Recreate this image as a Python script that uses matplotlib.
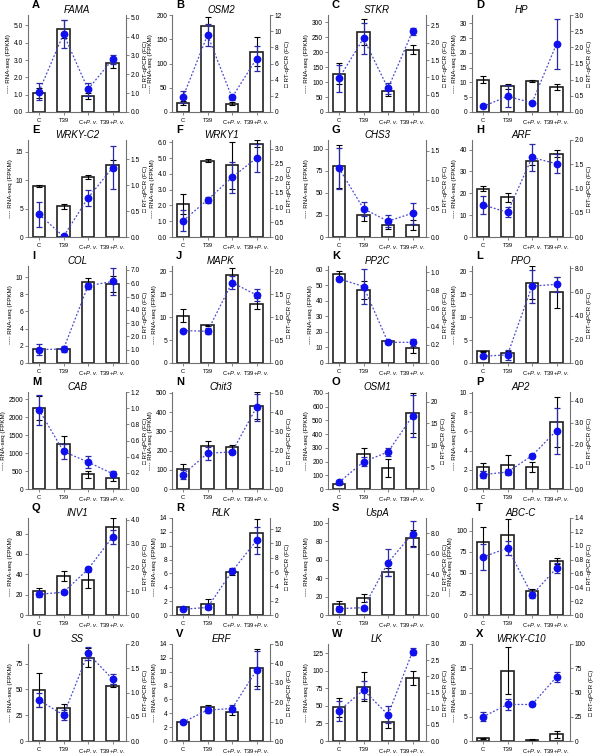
import matplotlib
matplotlib.use('Agg')
import matplotlib.pyplot as plt
import numpy as np

plt.rcParams['font.family'] = ['Liberation Sans', 'DejaVu Sans']
plt.rcParams['mathtext.fontset'] = 'custom'
plt.rcParams['mathtext.rm'] = 'Liberation Sans'
plt.rcParams['mathtext.it'] = 'Liberation Sans:italic'

letters = list('ABCDEFGHIJKLMNOPQRSTUVWX')
genes = ['FAMA', 'OSM2', 'STKR', 'HP', 'WRKY-C2', 'WRKY1', 'CHS3', 'ARF',
         'COL', 'MAPK', 'PP2C', 'PPO', 'CAB', 'Chit3', 'OSM1', 'AP2',
         'INV1', 'RLK', 'UspA', 'ABC-C', 'SS', 'ERF', 'LK', 'WRKY-C10']
groups = ['C', 'T39', r'C+$\it{P.v.}$', r'T39+$\it{P.v.}$']

# RT-qPCR fold change (bars, right axis)
qpcr = [
    [1.02, 4.41, 0.86, 2.59], [1.12, 10.7, 1.03, 7.44],
    [1.10, 2.30, 0.61, 1.80], [1.00, 0.80, 0.96, 0.78],
    [0.99, 0.59, 1.15, 1.39], [1.12, 2.60, 2.44, 3.18],
    [1.23, 0.38, 0.21, 0.21], [1.00, 0.82, 1.56, 1.72],
    [1.06, 1.06, 6.12, 5.92], [1.03, 0.82, 1.92, 1.30],
    [0.98, 0.81, 0.24, 0.16], [0.99, 0.82, 6.76, 5.97],
    [1.00, 0.56, 0.18, 0.135], [1.06, 2.22, 2.17, 4.34],
    [1.15, 7.9, 4.83, 17.4], [0.99, 1.11, 0.99, 3.04],
    [0.99, 1.65, 1.48, 3.70], [1.07, 1.54, 6.07, 11.45],
    [1.05, 1.63, 4.25, 7.52], [1.05, 1.16, 0.35, 0.78],
    [1.05, 0.68, 1.72, 1.14], [0.97, 1.73, 1.49, 3.78],
    [1.04, 1.68, 0.59, 1.95], [2.7, 72.6, 1.4, 6.8],
]
qpcr_err = [
    [0.27, 0.47, 0.15, 0.24], [0.3, 1.0, 0.2, 1.8],
    [0.3, 0.38, 0.14, 0.14], [0.11, 0.08, 0.03, 0.10],
    [0.02, 0.05, 0.04, 0.10], [0.35, 0.05, 0.8, 0.11],
    [0.38, 0.10, 0.065, 0.08], [0.06, 0.09, 0.08, 0.08],
    [0.10, 0.05, 0.25, 0.6], [0.14, 0.02, 0.16, 0.13],
    [0.03, 0.10, 0.01, 0.045], [0.05, 0.2, 1.4, 1.3],
    [0.15, 0.10, 0.045, 0.03], [0.26, 0.28, 0.14, 0.7],
    [0.3, 1.4, 2.0, 4.5], [0.17, 0.45, 0.23, 1.14],
    [0.14, 0.2, 0.35, 0.4], [0.1, 0.65, 0.45, 1.9],
    [0.3, 0.4, 0.4, 0.8], [0.22, 0.22, 0.03, 0.04],
    [0.35, 0.08, 0.2, 0.03], [0.05, 0.1, 0.15, 0.95],
    [0.3, 0.45, 0.18, 0.22], [0.8, 24.3, 0.3, 3.4],
]
# RNA-seq FPKM (dots + dashed line, left axis)
fpkm = [
    [1.18, 4.51, 1.31, 3.04], [31, 159, 30, 110],
    [113, 247, 79, 270], [1.9, 5.3, 3.1, 23.0],
    [4.0, 0.1, 6.9, 12.2], [1.02, 2.35, 3.77, 5.0],
    [78, 32, 18, 27], [14.7, 11.3, 36.4, 33.5],
    [1.56, 1.63, 9.0, 9.5], [7.05, 6.9, 17.5, 14.8],
    [54.2, 49.2, 13.3, 13.3], [1.46, 1.8, 16.8, 17.2],
    [2204, 1046, 750, 426], [75, 186, 193, 425],
    [49, 198, 270, 532], [1.5, 1.77, 3.47, 6.08],
    [20.4, 22.4, 45, 76.6], [0.82, 1.1, 6.28, 10.77],
    [6.9, 8.0, 57, 88.4], [68.7, 79.4, 23.8, 55.6],
    [39.5, 25.2, 84.8, 60], [2.72, 4.46, 4.69, 10.2],
    [43, 72.4, 37.4, 127], [5.0, 7.53, 7.53, 13.2],
]
fpkm_err = [
    [0.5, 0.8, 0.38, 0.27], [13, 22, 5, 26],
    [45, 51, 18, 12], [0.2, 3.7, 0.2, 8.6],
    [2.2, 0.2, 1.4, 3.8], [0.67, 0.2, 1.0, 0.86],
    [23, 8, 6.5, 12], [4, 2.3, 6, 4.4],
    [0.6, 0.3, 0.35, 1.55], [0.3, 0.7, 1.5, 1.3],
    [1, 11.5, 1, 2.4], [0.3, 1.1, 3.6, 1.6],
    [425, 220, 160, 70], [25, 33, 12, 70],
    [10, 32, 30, 155], [0.35, 0.3, 0.15, 2.4],
    [3, 1.5, 2.5, 7], [0.1, 0.3, 0.2, 2.0],
    [3, 2, 15, 14], [15.8, 8, 4, 6],
    [7, 5, 6, 4.5], [0.2, 0.4, 0.5, 2.75],
    [14.5, 12.6, 11.7, 5], [0.95, 1.1, 0.35, 1.1],
]

# axis ranges and ticks: (top of range, last tick, tick step, decimals)
left_axis = [
    (5.6, 5, 1, 1), (200, 200, 50, 0), (325, 300, 50, 0), (32.8, 30, 5, 0),
    (17.1, 15, 5, 0), (6.14, 6, 1, 1), (110, 100, 25, 0), (44.4, 40, 10, 0),
    (11.3, 10, 2, 0), (21.1, 20, 5, 0), (62.4, 60, 10, 0), (21.2, 20, 5, 0),
    (2700, 2500, 500, 0), (505, 500, 100, 0), (707, 700, 100, 0), (10.1, 10, 2, 0),
    (95.4, 80, 20, 0), (14.0, 14, 2, 0), (105.5, 100, 20, 0), (115, 100, 25, 0),
    (94, 75, 25, 0), (14.0, 14, 2, 0), (138, 125, 25, 0), (20, 20, 5, 0),
]
right_axis = [
    (5.15, 5, 1, 1), (12, 12, 2, 0), (2.8, 2.5, 0.5, 1), (3.0, 3, 0.5, 1),
    (1.87, 1.5, 0.5, 1), (3.3, 3, 0.5, 1), (1.69, 1.5, 0.5, 1), (2.0, 2, 0.5, 1),
    (7.3, 7, 1, 1), (2.12, 2, 0.5, 1), (1.07, 1.0, 0.2, 1), (8.17, 8, 2, 1),
    (1.2, 1.2, 0.2, 1), (5.05, 5, 1, 1), (22.2, 20, 5, 0), (4.4, 4, 1, 1),
    (4.08, 4, 1, 1), (13.55, 12, 2, 0), (9.5, 8, 2, 1), (1.4, 1.4, 0.2, 1),
    (2.0, 2, 0.5, 1), (5.0, 5, 1, 1), (3.0, 3, 0.5, 1), (100, 100, 25, 0),
]

W, H = 600, 755
col_left = [28, 172, 328, 472]
row_bottom = [112, 237, 363, 489, 615, 741]
ax_w, ax_h = 98, 97

spine_c = '#707070'
dot_c = '#1010ee'
fig = plt.figure(figsize=(6, 7.55), dpi=100)
x = np.arange(4)


def set_ticks(a, spec):
    top, last, step, dec = spec
    ticks = np.arange(0, last + step / 2, step)
    a.set_ylim(0, top)
    a.set_yticks(ticks)
    a.set_yticklabels([f'{t:.{dec}f}' for t in ticks])


for i in range(24):
    r, c = divmod(i, 4)
    ax = fig.add_axes([col_left[c] / W, 1 - row_bottom[r] / H, ax_w / W, ax_h / H])
    ax2 = ax.twinx()

    ax2.bar(x, qpcr[i], 0.5, yerr=qpcr_err[i], color='white', edgecolor='#202020',
            linewidth=1.2, error_kw=dict(ecolor='black', elinewidth=0.8,
                                         capsize=2.5, capthick=0.8))
    ax.plot(x, fpkm[i], linestyle=(0, (1.5, 1.5)), color='#4a4ad0', linewidth=0.9)
    ax.errorbar(x, fpkm[i], yerr=fpkm_err[i], fmt='o', color=dot_c, markersize=4.6,
                ecolor='#2a2aa8', elinewidth=0.9, capsize=2.2, capthick=0.9)
    ax.set_zorder(ax2.get_zorder() + 1)
    ax.patch.set_visible(False)

    set_ticks(ax, left_axis[i])
    set_ticks(ax2, right_axis[i])
    ax.set_xlim(-0.45, 3.55)
    ax.set_xticks(x)
    ax.set_xticklabels(groups)

    for a in (ax, ax2):
        a.spines['top'].set_visible(False)
        for s in a.spines.values():
            s.set_color(spine_c)
            s.set_linewidth(0.8)
        a.tick_params(axis='y', labelsize=4.8, length=2, width=0.6, color=spine_c, pad=1.5)
    ax.tick_params(axis='x', labelsize=4.2, length=2, width=0.6, color=spine_c, pad=2)
    ax.spines['right'].set_visible(False)
    ax2.spines['left'].set_visible(False)
    ax2.spines['bottom'].set_visible(False)

    ax.set_ylabel('---- RNA-seq (FPKM)', fontsize=4.5, labelpad=2)
    ax2.set_ylabel('\u25a1 RT-qPCR (FC)', fontsize=4.5, labelpad=2)
    ax.set_title(genes[i], fontsize=7, style='italic', pad=1.5)
    ax.text(0.04, 1.05, letters[i], transform=ax.transAxes, fontsize=8,
            fontweight='bold', ha='left', va='bottom')

fig.savefig('out.png', dpi=100)
